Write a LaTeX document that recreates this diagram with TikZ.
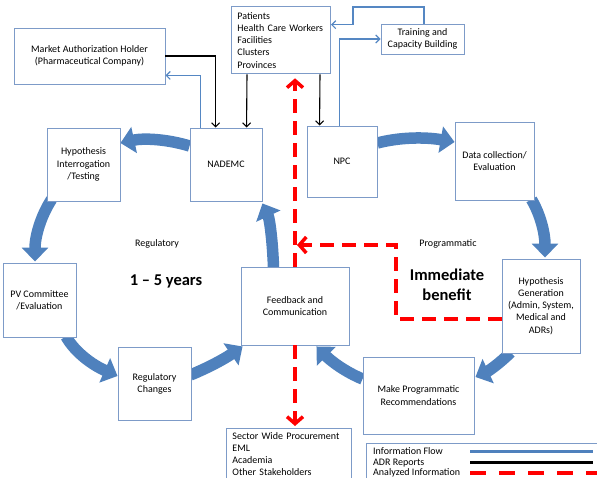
\documentclass[tikz,border=0pt]{standalone}
\usepackage{fontspec}
\setmainfont{Carlito}
\usetikzlibrary{arrows.meta}
\pgfdeclarelayer{background}
\pgfsetlayers{background,main}
\definecolor{flowblue}{RGB}{79,129,189}
\definecolor{infoblue}{RGB}{85,135,195}
\definecolor{boxc}{RGB}{125,155,200}
\definecolor{redd}{RGB}{255,0,0}
\newcommand\boxfont{\fontsize{10}{12.2}\selectfont}
\tikzset{
  box/.style={draw=boxc, fill=white, line width=0.9pt, inner sep=2pt, align=center, font=\boxfont},
  flow/.style={draw=flowblue, line width=11.5pt, -{Triangle[length=14pt,width=26pt]}},
  adr/.style={draw=black, line width=1.1pt, -{Straight Barb[length=4pt,width=8pt]}},
  info/.style={draw=infoblue, line width=1.2pt, -{Straight Barb[length=4pt,width=8pt]}},
  analyzed/.style={draw=redd, line width=3.5pt, dash pattern=on 14pt off 8pt, -{Straight Barb[length=7pt,width=16pt]}},
  lbl/.style={font=\boxfont, inner sep=0pt},
  bigbold/.style={font=\fontsize{16.5}{19}\selectfont\bfseries, inner sep=0pt, align=center},
}
\begin{document}
\begin{tikzpicture}[x=1pt,y=-1pt]
\useasboundingbox (0,0) rectangle (597,478);
\clip (0,0) rectangle (597,478);
% boxes
\node[box, minimum width=151, minimum height=56] (mah) at (89.5,56) {Market Authorization Holder\\(Pharmaceutical Company)};
\node[box, anchor=north west, text width=87, align=left, inner xsep=6, inner ysep=6, text depth=48.5] (patients) at (231,6) {Patients\\Health Care Workers\\Facilities\\Clusters\\Provinces};
\node[box, minimum width=83, minimum height=30] (training) at (422.5,39) {Training and\\Capacity Building};
\node[box, minimum width=73, minimum height=73] (hypint) at (83.5,164.5) {Hypothesis\\Interrogation\\/Testing};
\node[box, minimum width=72, minimum height=73] (nademc) at (226,164.5) {NADEMC};
\node[box, minimum width=70, minimum height=71] (npc) at (342,161.5) {NPC};
\node[box, minimum width=79, minimum height=78] (datacoll) at (494.5,161) {Data collection/\\Evaluation};
\node[box, minimum width=73, minimum height=74] (pv) at (39.5,300) {PV Committee\\/Evaluation};
\node[box, minimum width=73, minimum height=73] (regch) at (154.5,383.5) {Regulatory\\Changes};
\node[box, minimum width=108, minimum height=78] (feedback) at (295,306) {Feedback and\\Communication};
\node[box, minimum width=78, minimum height=94] (hypgen) at (541,306) {Hypothesis\\Generation\\(Admin, System,\\Medical and\\ADRs)};
\node[box, minimum width=111, minimum height=77] (makeprog) at (418.5,395.5) {Make Programmatic\\Recommendations};
\node[box, anchor=north west, text width=113, align=left, inner xsep=6, inner ysep=4.5, font=\fontsize{10}{11.8}\selectfont] (sector) at (226,428) {Sector Wide Procurement\\EML\\Academia\\Other Stakeholders};
% free texts
\node[lbl] (regl) at (157,244) {Regulatory};
\node[lbl] (progl) at (448,244) {Programmatic};
\node[bigbold] (years) at (166,281) {1 – 5 years};
\node[bigbold, font=\fontsize{16.5}{19.5}\selectfont\bfseries] (immed) at (447,285) {Immediate\\benefit};
% legend
\node[box, anchor=north west, minimum width=240, minimum height=50] (legend) at (366,443) {};
\node[lbl, anchor=base west] (l1) at (373,454.5) {Information Flow};
\node[lbl, anchor=base west] (l2) at (373,465.5) {ADR Reports};
\node[lbl, anchor=base west] (l3) at (373,475.5) {Analyzed Information};
\coordinate (la1) at (470,451.5); \coordinate (lb1) at (593,451.5);
\coordinate (la2) at (470,462.5); \coordinate (lb2) at (593,462.5);
\coordinate (la3) at (470,473); \coordinate (lb3) at (597,473);
\draw[draw=flowblue, line width=3.5pt] (la1) -- (lb1);
\draw[draw=black, line width=3.5pt] (la2) -- (lb2);
\draw[draw=redd, line width=3.5pt, dash pattern=on 16pt off 13pt] (la3) -- (lb3);
% black ADR connectors
\draw[adr] (mah.east) -| ([xshift=26]nademc.north west);
\draw[adr] ([xshift=16]patients.south west) -- ([xshift=57]nademc.north west);
\draw[adr] ([xshift=89]patients.south west) -- ([xshift=13]npc.north west);
% thin blue info connectors
\draw[info] ([xshift=11]nademc.north west) |- ([shift={(0,-9)}]mah.south east);
\draw[info] ([xshift=33]npc.north west) |- (training.west);
\coordinate (tc) at (353,7);
\draw[info] ([xshift=1.5]training.north) |- (tc) |- ([shift={(0,-15.5)}]patients.east);
% red analyzed information
\path (patients.south -| feedback.north) ++(0,4) coordinate (ptop);
\path (feedback.south |- sector.north) ++(0,-2) coordinate (sectop);
\coordinate (jn) at (feedback.north |- 0,245);
\coordinate (rbend) at (396,245);
\draw[analyzed] (feedback.north) -- (ptop);
\draw[analyzed] ([shift={(0,13)}]hypgen.west) -| (rbend) -- ([xshift=2]jn);
\draw[analyzed] (feedback.south) -- (sectop);
% big flow arrows
\begin{pgfonlayer}{background}
\draw[flow] ([shift={(0,-18.5)}]nademc.west) .. controls +(-23,-7) and +(23,-5) .. ([shift={(0,-21.5)}]hypint.east);
\draw[flow] ([shift={(5,-2)}]hypint.south west) .. controls +(-11,17) and +(0,-25) .. ([shift={(-4.5,-1)}]pv.north);
\draw[flow] ([shift={(26.5,-1)}]pv.south) .. controls +(9,16) and +(-25,-11) .. ([shift={(0,-7.5)}]regch.west);
\draw[flow] ([shift={(-1,-8.5)}]regch.east) .. controls +(17,-7) and +(-19,13) .. ([shift={(2,1)}]feedback.south west);
\draw[flow] ([shift={(33,2)}]feedback.north west) .. controls +(-1,-29) and +(7,15) .. ([shift={(0,2)}]nademc.south east);
\draw[flow] ([shift={(0,-18.5)}]npc.east) .. controls +(23,-6) and +(-29,-5) .. ([shift={(0,-19)}]datacoll.west);
\draw[flow] ([shift={(-3,-1)}]datacoll.south east) .. controls +(9,15) and +(0,-24) .. ([shift={(4,-1)}]hypgen.north);
\draw[flow] ([shift={(9,-1)}]hypgen.south west) .. controls +(-11,11) and +(13,-6) .. ([shift={(1,-18.5)}]makeprog.east);
\draw[flow] ([shift={(0,-16.5)}]makeprog.west) .. controls +(-17,-7) and +(15,15) .. ([shift={(-33,1)}]feedback.south east);
\end{pgfonlayer}
\end{tikzpicture}
\end{document}
